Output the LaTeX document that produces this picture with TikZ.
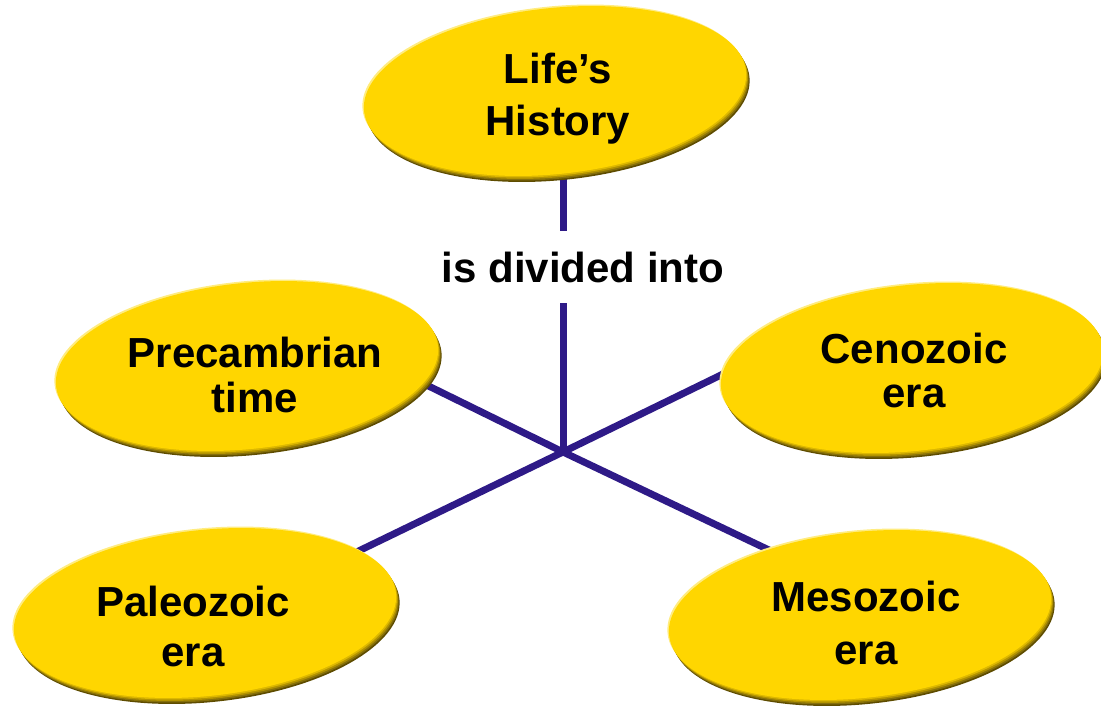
\documentclass[tikz,border=0pt]{standalone}
\usepackage{fontspec}
\setmainfont{Liberation Sans}
\usetikzlibrary{shapes.geometric,shadows,backgrounds}
\definecolor{yfill}{HTML}{FFD600}
\definecolor{bevel}{HTML}{5E4C00}
\definecolor{bevelb}{HTML}{86700A}
\definecolor{bevelmid}{HTML}{B39300}
\definecolor{bevelc}{HTML}{DDB800}
\definecolor{ylight}{HTML}{FFEC80}
\definecolor{linkc}{HTML}{2E1A87}
\begin{document}
\begin{tikzpicture}[x=1pt,y=-1pt,
  era/.style={ellipse, minimum width=384pt, minimum height=166pt, inner sep=0pt,
    fill=yfill, rotate=6,
    general shadow={fill=ylight, shadow xshift=-1.5pt, shadow yshift=1.5pt},
    general shadow={fill=bevel, shadow xshift=3.5pt, shadow yshift=-6pt},
    general shadow={fill=bevelb, shadow xshift=2.6pt, shadow yshift=-4.5pt},
    general shadow={fill=bevelmid, shadow xshift=1.8pt, shadow yshift=-3pt},
    general shadow={fill=bevelc, shadow xshift=0.9pt, shadow yshift=-1.5pt}},
  txt/.style={font=\bfseries, align=center, inner sep=0pt},
  link/.style={draw=linkc, line width=7pt}]
\useasboundingbox (0,0) rectangle (1101,709);
% ellipses
\node[era] (lifeE) at (555,91) {};
\node[era] (preE) at (247,366) {};
\node[era] (cenE) at (912,368) {};
\node[era] (palE) at (205,613) {};
\node[era] (mesE) at (860,615) {};
% texts
\node[txt, font=\fontsize{42}{52}\selectfont\bfseries] (life) at (558,99) {Life’s\\History};
\node[txt, font=\fontsize{42}{45}\selectfont\bfseries] (pre) at (255,375) {Precambrian\\time};
\node[txt, font=\fontsize{42}{44}\selectfont\bfseries] (cen) at (914,370) {Cenozoic\\era};
\node[txt, font=\fontsize{42}{50}\selectfont\bfseries] (pal) at (193,626.5) {Paleozoic\\era};
\node[txt, font=\fontsize{42}{53}\selectfont\bfseries] (mes) at (866,623) {Mesozoic\\era};
% label
\node[font=\fontsize{42}{50}\selectfont\bfseries, fill=white, inner xsep=4pt, inner ysep=21pt, anchor=base] (div) at (583,282) {is divided into};
% connector points
\coordinate (hub) at (563,452);
\coordinate (preEnd) at (400,372);
\coordinate (cenEnd) at (760,356);
\coordinate (palEnd) at (340,560);
\coordinate (mesEnd) at (790,560);
\begin{pgfonlayer}{background}
  \draw[link] (hub |- lifeE.center) -- (hub);
  \draw[link] (hub) -- (preEnd);
  \draw[link] (hub) -- (cenEnd);
  \draw[link] (hub) -- (palEnd);
  \draw[link] (hub) -- (mesEnd);
\end{pgfonlayer}
\end{tikzpicture}
\end{document}
